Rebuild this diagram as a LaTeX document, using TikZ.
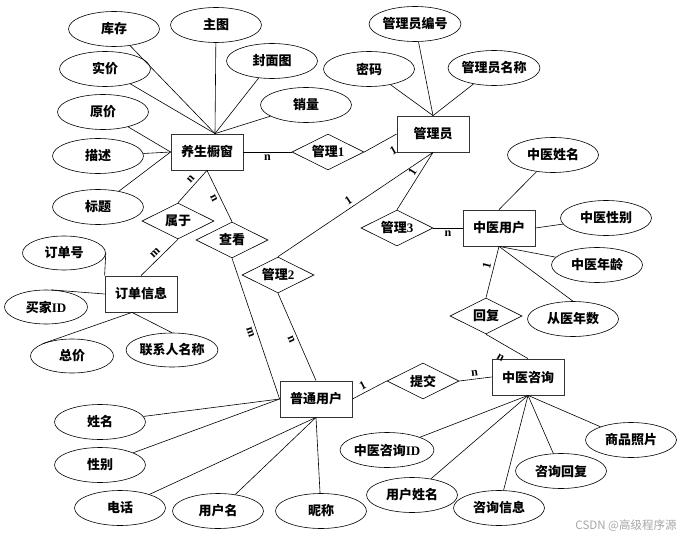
\documentclass[tikz,border=0pt]{standalone}
\usepackage{fontspec}
\setmainfont{Liberation Serif}
\newfontfamily\cjk{Noto Sans CJK SC}
\usepackage{tikz}
\tikzset{
     entity/.style={draw=black!80,line width=0.8pt,rectangle,minimum width=72pt,minimum height=36pt,inner sep=0pt},
     relation/.style={draw,line width=0.6pt,diamond,aspect=2,minimum width=72pt,minimum height=36pt,inner sep=0pt},
     attr/.style={draw,line width=0.6pt,ellipse,minimum width=91pt,minimum height=35pt,inner sep=0pt},
     attrs/.style={attr,minimum width=83pt,minimum height=34pt},
     card/.style={font=\fontsize{12}{14}\rmfamily\bfseries,inner sep=3pt,sloped}
     }
\usetikzlibrary{positioning,arrows.meta}
\usetikzlibrary{shapes.geometric}

\begin{document}
\begin{tikzpicture}[x=1pt,y=-1pt,font=\fontsize{13}{15}\cjk\bfseries,line width=0.6pt]
                    \useasboundingbox (0,0) rectangle (690,540);
                    % Place nodes
                    \node [entity] (chuchuang) at (207,152) {养生橱窗};
                    \node [entity] (guanliyuan) at (433,134) {管理员};
                    \node [entity] (zyyonghu) at (499,228) {中医用户};
                    \node [entity] (dingdan) at (141,294) {订单信息};
                    \node [entity] (ptyonghu) at (316,399) {普通用户};
                    \node [entity] (zixun) at (528,377) {中医咨询};
                    % relations
                    \node [relation] (guanli1) at (328,152) {管理{\rmfamily 1}};
                    \node [relation] (shuyu) at (178,221) {属于};
                    \node [relation] (chakan) at (232,240) {查看};
                    \node [relation] (guanli2) at (278,275) {管理{\rmfamily 2}};
                    \node [relation] (guanli3) at (397,228) {管理{\rmfamily 3}};
                    \node [relation] (huifu) at (486,316) {回复};
                    \node [relation] (tijiao) at (423,381) {提交};
                    % attributes
                    \node [attr] (kucun) at (114,29) {库存};
                    \node [attr] (zhutu) at (216,25) {主图};
                    \node [attr] (fengmian) at (272,61) {封面图};
                    \node [attr] (shijia) at (105,69) {实价};
                    \node [attr] (xiaoliang) at (306,105) {销量};
                    \node [attr] (yuanjia) at (103,112) {原价};
                    \node [attr] (miaoshu) at (98,156) {描述};
                    \node [attr] (biaoti) at (98,207) {标题};
                    \node [attrs] (dingdanhao) at (64,253) {订单号};
                    \node [attrs] (maijia) at (46,307) {买家{\rmfamily ID}};
                    \node [attrs] (zongjia) at (72,356) {总价};
                    \node [attrs] (lianxiren) at (172,350) {联系人名称};
                    \node [attr] (mima) at (369,69) {密码};
                    \node [attr] (glybianhao) at (415,24) {管理员编号};
                    \node [attr] (glymingcheng) at (494,68) {管理员名称};
                    \node [attr] (zyxingming) at (553,155) {中医姓名};
                    \node [attr] (zyxingbie) at (606,218) {中医性别};
                    \node [attr] (zynianling) at (597,265) {中医年龄};
                    \node [attr] (congyi) at (573,319) {从医年数};
                    \node [attr] (xingming) at (100,422) {姓名};
                    \node [attr] (xingbie) at (100,465) {性别};
                    \node [attr] (dianhua) at (120,508) {电话};
                    \node [attr] (yonghuming) at (218,511) {用户名};
                    \node [attr] (nicheng) at (321,511) {昵称};
                    \node [attr] (zixunid) at (387,450) {中医咨询{\rmfamily ID}};
                    \node [attr] (yhxingming) at (412,495) {用户姓名};
                    \node [attr] (zxxinxi) at (499,508) {咨询信息};
                    \node [attr] (zxhuifu) at (561,471) {咨询回复};
                    \node [attr] (zhaopian) at (631,440) {商品照片};
                    \node [font=\fontsize{11.5}{13}\cjk,text=black!35] (csdn) at (626,526) {CSDN @高级程序源};
                    % Draw edges
                    \path (chuchuang) edge node [card,below] {n} (guanli1);
                    \path (guanli1.east) edge node [card,pos=0.7,below=6pt] {1} (guanliyuan.west);
                    \path (guanliyuan.south) edge node [card,pos=0.4,above] {1} (guanli3.north);
                    \path (guanliyuan.south) edge node [card,pos=0.52,above] {1} (guanli2.north);
                    \path (guanli3) edge node [card,below] {n} (zyyonghu);
                    \path (zyyonghu.south) edge node [card,pos=0.4,above] {1} (huifu.north);
                    \path (huifu.south) edge node [card,pos=0.5,below=7pt] {n} (zixun.north);
                    \path (zixun.west) edge node [card,above] {n} (tijiao.east);
                    \path (ptyonghu.east) edge node [card,pos=0.4,above] {1} (tijiao.west);
                    \path (ptyonghu.north) edge node [card,below] {n} (guanli2.south);
                    \path (chakan.south) edge node [card,pos=0.51,below] {m} (ptyonghu.west);
                    \path (chuchuang.south) edge node [card,below] {n} (chakan.north);
                    \path (chuchuang.south) edge node [card,pos=0.4,above] {n} (shuyu.north);
                    \path (shuyu.south) edge node [card,above] {m} (dingdan.north);
                    % attribute lines
                    \foreach \a in {kucun,zhutu,fengmian,shijia,xiaoliang}
                        \draw (\a) -- ([xshift=8pt]chuchuang.north);
                    \foreach \a in {yuanjia,miaoshu,biaoti}
                        \draw (\a) -- (chuchuang.west);
                    \draw (dingdanhao.east) -- (dingdan.north west);
                    \draw (maijia.75) -- (dingdan.west);
                    \draw (zongjia.north west) -- ([xshift=-9pt]dingdan.south);
                    \draw (lianxiren.north) -- ([xshift=-9pt]dingdan.south);
                    \foreach \a in {mima,glybianhao,glymingcheng}
                        \draw (\a) -- (guanliyuan.north);
                    \draw (zyxingming) -- (zyyonghu.north);
                    \draw (zyxingbie) -- (zyyonghu.east);
                    \draw (zynianling) -- (zyyonghu.south);
                    \draw (congyi.north) -- (zyyonghu.south);
                    \foreach \a in {xingming,xingbie}
                        \draw (\a) -- (ptyonghu.west);
                    \foreach \a in {dianhua,yonghuming,nicheng}
                        \draw (\a) -- (ptyonghu.south);
                    \foreach \a in {zixunid,yhxingming,zxxinxi,zxhuifu,zhaopian}
                        \draw (\a) -- (zixun.south);
                \end{tikzpicture}
\end{document}
